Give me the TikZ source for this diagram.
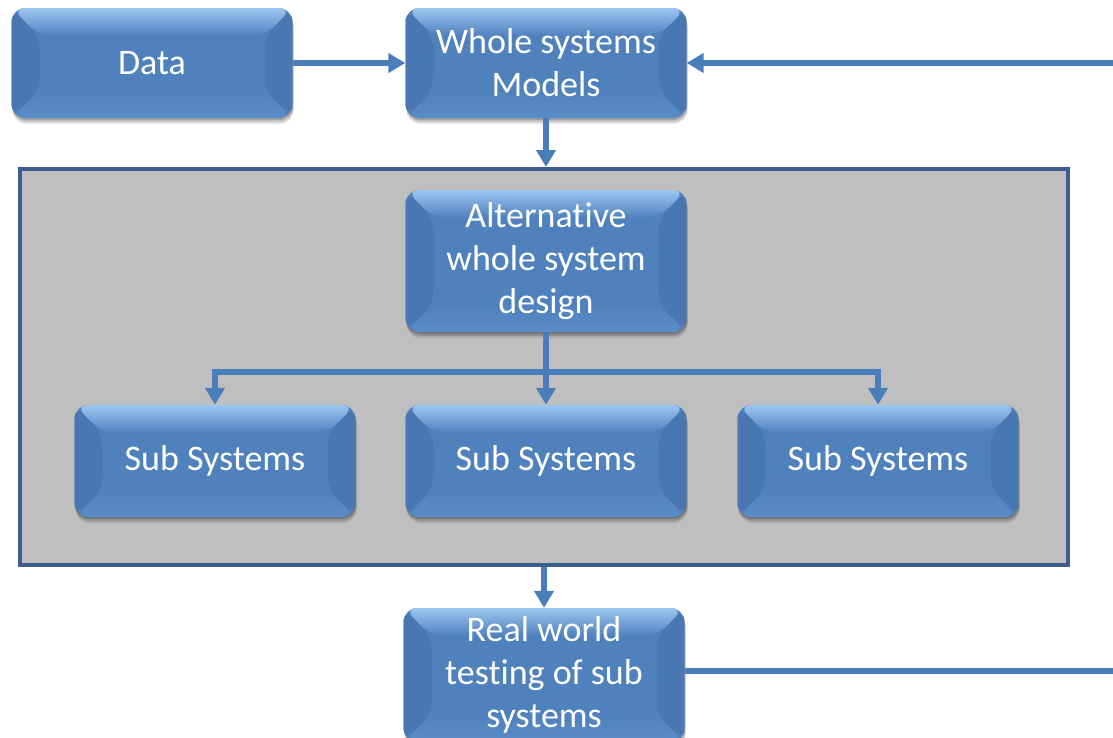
\documentclass[tikz,border=0pt]{standalone}
\usepackage{fontspec}
\setmainfont{Carlito}[Ligatures=NoCommon]
\usetikzlibrary{arrows.meta,shadows}
\definecolor{boxblue}{HTML}{4F81BD}
\definecolor{boxside}{HTML}{4877B2}
\definecolor{boxtop}{HTML}{9CC6F2}
\definecolor{boxbottom}{HTML}{5A8CC8}
\definecolor{linkblue}{HTML}{4A7EBB}
\definecolor{panelgray}{HTML}{BFBFBF}
\definecolor{panelborder}{HTML}{3A5F8E}
\tikzset{
  bevelbox/.style={
    rounded corners=14pt, minimum width=281pt, minimum height=110pt,
    inner sep=0pt, fill=boxblue, text=white, align=center,
    font=\fontsize{36}{43}\selectfont,
    % soft layered drop shadow
    general shadow={shadow xshift=1pt, shadow yshift=-6pt, fill=black, opacity=0.10},
    general shadow={shadow xshift=1pt, shadow yshift=-4pt, fill=black, opacity=0.14},
    general shadow={shadow xshift=0.5pt, shadow yshift=-2pt, fill=black, opacity=0.18},
    postaction={path picture={
      % darker side bevels
      \fill[boxside]
        (path picture bounding box.north west)
        -- ([shift={(28pt,-28pt)}]path picture bounding box.north west)
        -- ([shift={(28pt,28pt)}]path picture bounding box.south west)
        -- (path picture bounding box.south west) -- cycle;
      \fill[boxside]
        (path picture bounding box.north east)
        -- ([shift={(-28pt,-28pt)}]path picture bounding box.north east)
        -- ([shift={(-28pt,28pt)}]path picture bounding box.south east)
        -- (path picture bounding box.south east) -- cycle;
      % light top bevel
      \shade[top color=boxtop, bottom color=boxblue]
        (path picture bounding box.north west)
        -- (path picture bounding box.north east)
        -- ([shift={(-28pt,-28pt)}]path picture bounding box.north east)
        -- ([shift={(28pt,-28pt)}]path picture bounding box.north west) -- cycle;
      % soft bottom rim
      \shade[top color=boxblue, bottom color=boxbottom]
        ([shift={(28pt,28pt)}]path picture bounding box.south west)
        -- ([shift={(-28pt,28pt)}]path picture bounding box.south east)
        -- (path picture bounding box.south east)
        -- (path picture bounding box.south west) -- cycle;
    }}
  },
  tallbox/.style={bevelbox, minimum height=142pt},
  testbox/.style={bevelbox, minimum height=134pt},
  subbox/.style={bevelbox, minimum height=112pt},
  panelbox/.style={draw=panelborder, line width=4pt, fill=panelgray,
    minimum width=1048pt, minimum height=396pt, inner sep=0pt},
  link/.style={draw=linkblue, line width=6pt, line join=miter},
  arr/.style={link, -{Triangle[length=17pt,width=19pt]}}
}
\begin{document}
\begin{tikzpicture}[x=1pt,y=-1pt]
  \useasboundingbox (0,0) rectangle (1113,737);
  \clip (0,0) rectangle (1113,737);

  % grey design panel
  \node[panelbox] (panel) at (544,367) {};

  % boxes
  \node[bevelbox] (data) at (152,63) {Data};
  \node[bevelbox] (wsm) at (546,63) {Whole systems\\Models};
  \node[tallbox] (alt) at (546,261) {Alternative\\whole system\\design};
  \node[subbox] (sub1) at (215,461) {Sub Systems};
  \node[subbox] (sub2) at (546,461) {Sub Systems};
  \node[subbox] (sub3) at (878,461) {Sub Systems};
  \node[testbox] (real) at (544,675) {Real world\\testing of sub\\systems};

  % free ends on the right edge
  \coordinate (feedin) at (1113,63);
  \coordinate (feedout) at (1113,671);
  \coordinate (split) at (546,372);

  % connectors
  \draw[arr] (data) -- (wsm);
  \draw[arr] (feedin) -- (wsm.east);
  \draw[arr] (wsm.south) -- (wsm.south |- panel.north);
  \draw[arr] (alt.south) -- (split) -| (sub1.north);
  \draw[arr] (alt.south) -- (split) -| (sub3.north);
  \draw[arr] (alt.south) -- (sub2.north);
  \draw[arr] (panel.south) -- (real.north);
  \draw[link] (real.east |- feedout) -- (feedout);
\end{tikzpicture}
\end{document}
